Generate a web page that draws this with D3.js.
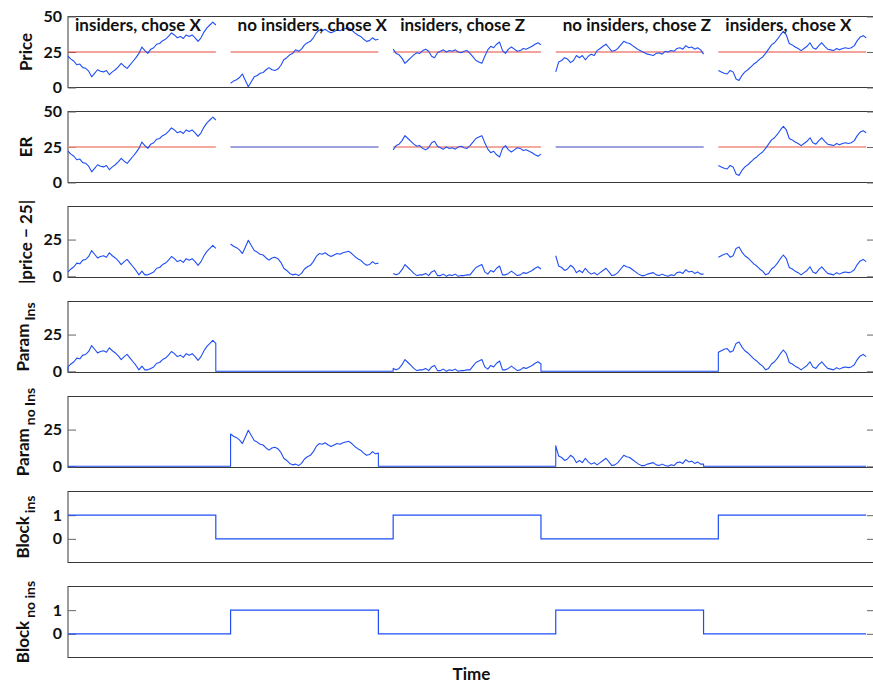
<!DOCTYPE html>
<html>
<head>
<meta charset="utf-8">
<script src="https://cdn.jsdelivr.net/npm/d3@7"></script>
<style>
  body { margin: 0; background: #fff; }
  text { font-family: Lato, "Open Sans", sans-serif; fill: #111; }
</style>
</head>
<body>
<svg id="chart" width="873" height="684"></svg>
<script>
// ---- Blocks of the session ----
const blockNames = ["insiders, chose X", "no insiders, chose X", "insiders, chose Z", "no insiders, chose Z", "insiders, chose X"];
const blockInsiders = [true, false, true, false, true];
const blockChoice = ["X", "X", "Z", "Z", "X"];
const blockStarts = [0, 110, 220, 330, 440];
const blockLength = 100;
const sampleStep = 2;

// ---- Price paths, one sample every 2 time steps ----
const priceBlock1 = [22, 20, 18.5, 16, 16.5, 14, 13.5, 11.5, 7.5, 10, 12.5, 11.5, 11, 12, 9, 11, 12.5, 14.5, 17, 15,
  13.5, 16, 18.5, 21, 24, 28.5, 26, 24, 27, 28, 30.5, 31, 33, 34, 36, 38.5, 37, 35, 36, 34.5,
  37, 36, 37, 35, 32.5, 35, 39, 42, 44, 46, 44];
const priceBlock2 = [3, 4.5, 5.5, 7, 9.5, 5, 0.5, 4, 7.5, 8.5, 10, 10.5, 12.5, 14, 12.5, 12, 13, 15.5, 19.5, 21,
  23, 24, 26.5, 25.5, 27, 30, 31.5, 32.5, 35, 38.5, 40.5, 40, 41, 39.5, 38.5, 39.5, 40.5, 40, 41, 41.5,
  42, 40.5, 38.5, 37, 36, 34, 32.5, 33, 35, 33.5, 34];
const priceBlock3 = [27, 24, 23, 20.5, 17, 19, 21, 23, 24.5, 24, 26, 27, 25.5, 22, 21, 24.5, 25.5, 26.5, 25, 26,
  25.5, 26.5, 25, 24.5, 25.5, 26, 24, 21.5, 19, 18, 17, 22, 26.5, 29, 28, 30.5, 32, 26, 24, 27,
  28.5, 27, 25.5, 26, 27.5, 27, 28, 29, 30.5, 31.5, 30];
const priceBlock4 = [11, 18, 19, 21, 20, 17.5, 19, 22.5, 21, 22.5, 19.5, 22, 23.5, 22.5, 26, 27.5, 29, 30.5, 28, 25.5,
  26, 27.5, 30, 32.5, 31.5, 31, 29.5, 28, 26.5, 25.5, 24.5, 23.5, 23, 22.5, 24, 24.5, 23.5, 25.5, 25, 26,
  25.5, 27.5, 28, 27, 29.5, 28, 28.5, 27, 28, 26.5, 23.5];
const priceBlock5 = [12, 11, 10, 9.5, 12, 11, 6, 5, 8.5, 11, 12.5, 14.5, 16.5, 18, 20, 21.5, 24, 27, 30, 31.5,
  34, 37, 39.5, 37, 31, 30, 28.5, 27.5, 26, 27.5, 29, 31.5, 28, 27, 29.5, 31.5, 29, 27, 26.5, 26,
  27.5, 26.5, 27.5, 28, 27.5, 28, 29.5, 33, 35.5, 36.5, 35];
const priceBlocks = [priceBlock1, priceBlock2, priceBlock3, priceBlock4, priceBlock5];

// ---- Axis settings ----
const fairValue = 25;
const priceTicks = [0, 25, 50];
const paramTicks = [0, 25];
const blockTicks = [0, 1];
const panelLabels = [
  { main: "Price" },
  { main: "ER" },
  { main: "|price \u2212 25|" },
  { main: "Param", sub: "Ins" },
  { main: "Param", sub: "no Ins" },
  { main: "Block", sub: "ins" },
  { main: "Block", sub: "no ins" }
];
const xLabel = "Time";

// ---- Layout ----
const left = 68, right = 875;
const panelTop0 = 16.5, panelStep = 95, panelH = 71;
const blue = "#1f4ef5", blueSoft = "#7e9ef7";
const red = "#e4473a", redSoft = "#f08d7f";

const svg = d3.select("#chart");
const tEnd = blockStarts[blockStarts.length - 1] + blockLength;
const x = d3.scaleLinear().domain([0, 546]).range([left, right]);

// derived series
const samples = priceBlocks.map((arr, b) => arr.map((v, i) => ({ t: blockStarts[b] + i * sampleStep, v })));
const erSeries = samples.map((pts, b) => {
  if (!blockInsiders[b]) return [{ t: blockStarts[b], v: fairValue }, { t: blockStarts[b] + blockLength, v: fairValue }];
  return pts.map(p => ({ t: p.t, v: blockChoice[b] === "X" ? p.v : 2 * fairValue - p.v }));
});
const devSeries = samples.map(pts => pts.map(p => ({ t: p.t, v: Math.abs(p.v - fairValue) })));

function paramSeries(forInsiders) {
  const pts = [{ t: 0, v: 0 }];
  devSeries.forEach((seg, b) => {
    if (blockInsiders[b] !== forInsiders) return;
    pts.push({ t: blockStarts[b], v: 0 });
    seg.forEach(p => pts.push(p));
    if (b < devSeries.length - 1) pts.push({ t: blockStarts[b] + blockLength, v: 0 });
  });
  if (pts[pts.length - 1].t < tEnd) pts.push({ t: tEnd, v: 0 });
  return pts;
}
function indicatorSeries(forInsiders) {
  const pts = [];
  blockStarts.forEach((s, b) => {
    const val = blockInsiders[b] === forInsiders ? 1 : 0;
    pts.push({ t: s, v: val }, { t: s + blockLength, v: val });
    if (b < blockStarts.length - 1) pts.push({ t: s + blockLength, v: 0 }, { t: blockStarts[b + 1], v: 0 });
  });
  return pts;
}

// ---- Panels ----
const panelDomains = [[0, 50], [0, 50], [-0.8, 47.5], [-0.8, 47.5], [-0.8, 47.5], [-1, 2], [-1, 2]];
const panelTicks = [priceTicks, priceTicks, paramTicks, paramTicks, paramTicks, blockTicks, blockTicks];

const panels = panelDomains.map((dom, i) => {
  const top = panelTop0 + i * panelStep;
  const y = d3.scaleLinear().domain(dom).range([top + panelH, top]);
  const g = svg.append("g");
  g.append("rect").attr("x", left).attr("y", top).attr("width", right - left).attr("height", panelH)
    .attr("fill", "none").attr("stroke", "#3a3a3a").attr("stroke-width", 1);
  const ax = g.append("g").attr("transform", `translate(${left},0)`)
    .call(d3.axisLeft(y).tickValues(panelTicks[i]).tickFormat(d3.format("d")).tickSize(-8).tickPadding(6));
  ax.select(".domain").remove();
  ax.selectAll(".tick line").attr("stroke", "#666");
  ax.selectAll(".tick text").style("font-size", "16px").style("font-weight", 700).attr("fill", "#111")
    .style("font-family", "Lato, sans-serif");
  const axR = g.append("g").attr("transform", `translate(${right},0)`)
    .call(d3.axisRight(y).tickValues(panelTicks[i]).tickSize(-8).tickFormat(""));
  axR.select(".domain").remove();
  axR.selectAll(".tick line").attr("stroke", "#666");

  // rotated panel label
  const lab = panelLabels[i];
  const cy = top + panelH / 2;
  const t = g.append("text")
    .attr("transform", `translate(${lab.sub ? 29 : 32},${cy}) rotate(-90)`)
    .attr("text-anchor", "middle")
    .style("font-size", "17px").style("font-weight", 700);
  t.append("tspan").text(lab.main);
  if (lab.sub) {
    t.append("tspan").attr("dx", 3).attr("dy", 6).style("font-size", "14px").style("font-weight", 700).text(lab.sub);
  }
  return { y, g, top };
});

const line = y => d3.line().x(d => x(d.t)).y(d => y(d.v));

// Panel 1: price with fair-value reference
blockStarts.forEach((s, b) => {
  const p = panels[0];
  p.g.append("line").attr("x1", x(s)).attr("x2", x(s + blockLength))
    .attr("y1", p.y(fairValue)).attr("y2", p.y(fairValue)).attr("stroke", red).attr("stroke-width", 1);
  p.g.append("path").datum(samples[b]).attr("d", line(p.y)).attr("fill", "none")
    .attr("stroke", blue).attr("stroke-width", 1.1).attr("stroke-linejoin", "round");
});

// Panel 2: expected return
blockStarts.forEach((s, b) => {
  const p = panels[1];
  p.g.append("line").attr("x1", x(s)).attr("x2", x(s + blockLength))
    .attr("y1", p.y(fairValue)).attr("y2", p.y(fairValue)).attr("stroke", redSoft).attr("stroke-width", 1.6);
  p.g.append("path").datum(erSeries[b]).attr("d", line(p.y)).attr("fill", "none")
    .attr("stroke", blockInsiders[b] ? blue : blueSoft)
    .attr("stroke-width", blockInsiders[b] ? 1.1 : 1.6).attr("stroke-linejoin", "round");
});

// Panel 3: distance from fair value
devSeries.forEach(seg => {
  const p = panels[2];
  p.g.append("path").datum(seg).attr("d", line(p.y)).attr("fill", "none")
    .attr("stroke", blue).attr("stroke-width", 1.1).attr("stroke-linejoin", "round");
});

// Panels 4-5: parameters per condition
[true, false].forEach((flag, k) => {
  const p = panels[3 + k];
  p.g.append("path").datum(paramSeries(flag)).attr("d", line(p.y)).attr("fill", "none")
    .attr("stroke", blue).attr("stroke-width", 1.1).attr("stroke-linejoin", "round");
});

// Panels 6-7: block indicators
[true, false].forEach((flag, k) => {
  const p = panels[5 + k];
  p.g.append("path").datum(indicatorSeries(flag)).attr("d", line(p.y)).attr("fill", "none")
    .attr("stroke", blue).attr("stroke-width", 1.2);
});

// Block titles
blockStarts.forEach((s, b) => {
  svg.append("text").attr("x", x(s) + 7).attr("y", 31)
    .style("font-size", "17px").style("font-weight", 700).text(blockNames[b]);
});

// x-axis title
svg.append("text").attr("x", (left + right) / 2).attr("y", 680).attr("text-anchor", "middle")
  .style("font-size", "17px").style("font-weight", 700).text(xLabel);
</script>
</body>
</html>
